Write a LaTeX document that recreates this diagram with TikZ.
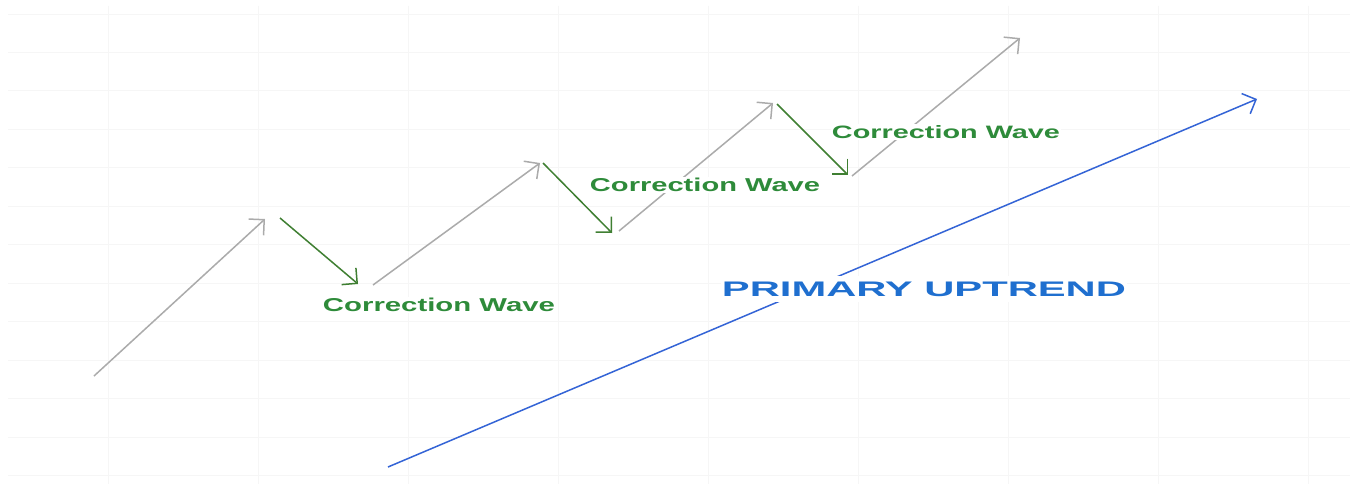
\documentclass[tikz,border=0pt]{standalone}
\usepackage{fontspec}
\setmainfont{Liberation Sans}
\usetikzlibrary{arrows.meta}
\definecolor{gridc}{HTML}{F6F6F6}
\definecolor{grayarrow}{HTML}{ABABAB}
\definecolor{greenarrow}{HTML}{3F7F32}
\definecolor{greentext}{HTML}{2E8B3A}
\definecolor{bluearrow}{HTML}{3464D6}
\definecolor{bluetext}{HTML}{1F6FCF}
\tikzset{
  tipv/.tip={Straight Barb[length=11pt,width=22pt,line width=1.5pt]},
  uparrow/.style={draw=grayarrow,line width=1.5pt,-tipv},
  downarrow/.style={draw=greenarrow,line width=1.5pt,-tipv},
  trendarrow/.style={draw=bluearrow,line width=1.5pt,-tipv},
  wavelabel/.style={fill=white,inner sep=1pt,text=greentext,font=\bfseries},
  trendlabel/.style={fill=white,inner xsep=1pt,inner ysep=6pt,text=bluetext,font=\bfseries},
}
\begin{document}
\begin{tikzpicture}[x=1pt,y=-1pt]
\useasboundingbox (0,0) rectangle (1359,489);
\fill[white] (0,0) rectangle (1359,489);
% faint grid
\foreach \i in {0,...,12} {
  \draw[gridc,line width=0.8pt] (8,14+38.45*\i) -- (1350,14+38.45*\i);
}
\foreach \i in {0,...,8} {
  \draw[gridc,line width=0.8pt] (108+150*\i,6) -- (108+150*\i,484);
}
% points
\coordinate (g1s) at (94,376);
\coordinate (g1e) at (265,219);
\coordinate (c1s) at (280,218);
\coordinate (c1e) at (358,284);
\coordinate (g2s) at (373,285);
\coordinate (g2e) at (540,163);
\coordinate (c2s) at (543,163);
\coordinate (c2e) at (612,233);
\coordinate (g3s) at (619,231);
\coordinate (g3e) at (773,103);
\coordinate (c3s) at (777,104);
\coordinate (c3e) at (848,175);
\coordinate (g4s) at (852,176);
\coordinate (g4e) at (1020,38);
\coordinate (bs) at (388,467);
\coordinate (be) at (1257,99);
% arrows
\draw[uparrow] (g1s) -- (g1e);
\draw[downarrow] (c1s) -- (c1e);
\draw[uparrow] (g2s) -- (g2e);
\draw[downarrow] (c2s) -- (c2e);
\draw[uparrow] (g3s) -- (g3e);
\draw[downarrow] (c3s) -- (c3e);
\draw[uparrow] (g4s) -- (g4e);
\draw[trendarrow] (bs) -- (be);
% labels
\node[wavelabel] (w1) at (439,305) {\resizebox{232pt}{13.5pt}{Correction Wave}};
\node[wavelabel] (w2) at (705,185) {\resizebox{230pt}{13.5pt}{Correction Wave}};
\node[wavelabel] (w3) at (946,132) {\resizebox{228pt}{13pt}{Correction Wave}};
\node[trendlabel] (pu) at (924,289) {\resizebox{404pt}{14.5pt}{PRIMARY UPTREND}};
\end{tikzpicture}
\end{document}
